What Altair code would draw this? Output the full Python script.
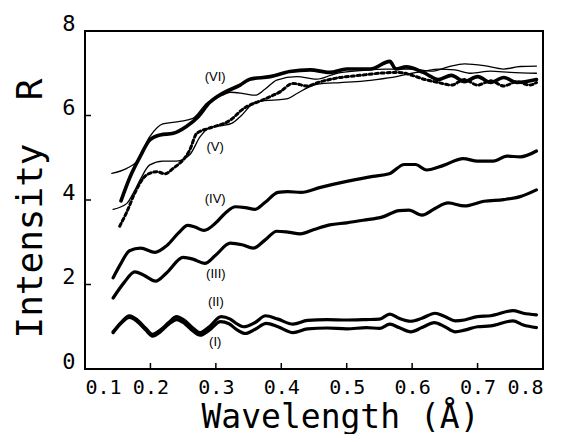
import altair as alt
import pandas as pd

# ---------------- data ----------------
x_ticks = [0.1, 0.2, 0.3, 0.4, 0.5, 0.6, 0.7, 0.8]
y_ticks = [0, 2, 4, 6, 8]

# Curve (I)
I_x = [0.143, 0.155, 0.168, 0.18, 0.193, 0.203, 0.215, 0.228, 0.24, 0.252, 0.265, 0.276, 0.29, 0.307, 0.32,
       0.333, 0.345, 0.36, 0.377, 0.395, 0.418, 0.44, 0.47, 0.5, 0.53, 0.55, 0.566, 0.58, 0.598, 0.615, 0.634,
       0.65, 0.666, 0.68, 0.70, 0.72, 0.754, 0.77, 0.79]
I_y = [0.86, 1.08, 1.22, 1.12, 0.92, 0.78, 0.88, 1.06, 1.17, 1.08, 0.90, 0.80, 0.92, 1.12, 1.07,
       0.92, 0.84, 0.94, 1.08, 1.00, 0.86, 0.95, 0.97, 0.95, 0.98, 0.96, 1.06, 0.98, 0.88, 0.98, 1.10,
       1.00, 0.88, 0.92, 1.00, 1.02, 1.14, 1.04, 0.98]

# Curve (II)
II_x = [0.143, 0.155, 0.168, 0.18, 0.193, 0.203, 0.215, 0.228, 0.24, 0.252, 0.265, 0.275, 0.29, 0.308, 0.322,
        0.333, 0.342, 0.36, 0.376, 0.395, 0.418, 0.44, 0.47, 0.5, 0.53, 0.55, 0.566, 0.58, 0.598, 0.615, 0.635,
        0.65, 0.666, 0.68, 0.70, 0.72, 0.754, 0.77, 0.79]
II_y = [0.88, 1.10, 1.26, 1.16, 0.96, 0.82, 0.92, 1.10, 1.24, 1.15, 0.97, 0.86, 1.00, 1.24, 1.18,
        1.06, 1.00, 1.10, 1.26, 1.18, 1.06, 1.15, 1.17, 1.16, 1.17, 1.18, 1.30, 1.20, 1.13, 1.20, 1.32,
        1.24, 1.14, 1.16, 1.24, 1.26, 1.38, 1.32, 1.28]

# Curve (III)
III_x = [0.143, 0.16, 0.176, 0.19, 0.208, 0.225, 0.25, 0.265, 0.283, 0.30, 0.322, 0.34, 0.357, 0.375, 0.393,
         0.41, 0.429, 0.45, 0.474, 0.50, 0.525, 0.555, 0.58, 0.595, 0.615, 0.635, 0.655, 0.68, 0.71, 0.74,
         0.765, 0.79]
III_y = [1.68, 2.05, 2.30, 2.22, 2.08, 2.28, 2.64, 2.60, 2.50, 2.70, 2.98, 2.94, 2.86, 3.05, 3.26,
         3.24, 3.20, 3.30, 3.41, 3.46, 3.52, 3.60, 3.75, 3.76, 3.64, 3.80, 3.93, 3.86, 3.97, 4.01,
         4.08, 4.24]

# Curve (IV)
IV_x = [0.143, 0.155, 0.168, 0.185, 0.207, 0.225, 0.243, 0.257, 0.268, 0.282, 0.30, 0.315, 0.33, 0.345, 0.36,
        0.375, 0.395, 0.41, 0.43, 0.46, 0.50, 0.54, 0.565, 0.588, 0.605, 0.622, 0.648, 0.678, 0.70, 0.724,
        0.745, 0.765, 0.79]
IV_y = [2.16, 2.50, 2.80, 2.86, 2.76, 2.92, 3.22, 3.40, 3.36, 3.28, 3.46, 3.70, 3.84, 3.82, 3.78,
        3.94, 4.18, 4.20, 4.18, 4.30, 4.44, 4.56, 4.62, 4.84, 4.84, 4.71, 4.82, 4.98, 4.92, 4.92,
        5.04, 5.02, 5.16]

# Curve (V): fitted line and measured points
V_fit_x = [0.143, 0.164, 0.175, 0.184, 0.199, 0.219, 0.24, 0.26, 0.276, 0.291, 0.31, 0.325, 0.337, 0.362,
           0.393, 0.41, 0.424, 0.454, 0.49, 0.515, 0.545, 0.576, 0.60, 0.617, 0.64, 0.665, 0.69, 0.72,
           0.75, 0.79]
V_fit_y = [3.78, 3.92, 4.20, 4.47, 4.83, 4.92, 4.92, 5.07, 5.50, 5.72, 5.76, 5.82, 5.97, 6.33,
           6.37, 6.40, 6.52, 6.74, 6.78, 6.80, 6.85, 6.92, 7.00, 7.04, 7.10, 7.08, 7.00, 7.05,
           7.02, 7.00]
V_dat_x = [0.153, 0.164, 0.176, 0.194, 0.21, 0.222, 0.235, 0.26, 0.271, 0.29, 0.322, 0.342, 0.372, 0.398,
           0.418, 0.439, 0.46, 0.49, 0.52, 0.55, 0.58, 0.60, 0.62, 0.64, 0.66, 0.68, 0.70, 0.72, 0.74,
           0.76, 0.78, 0.79]
V_dat_y = [3.38, 3.72, 4.16, 4.59, 4.67, 4.62, 4.75, 5.18, 5.58, 5.70, 5.89, 6.16, 6.37, 6.56,
           6.76, 6.70, 6.80, 6.90, 6.95, 7.00, 7.02, 6.95, 6.85, 6.78, 6.72, 6.85, 6.72, 6.82, 6.70,
           6.80, 6.72, 6.78]

# Curve (VI): fitted line and measured points
VI_fit_x = [0.141, 0.164, 0.179, 0.199, 0.219, 0.245, 0.265, 0.286, 0.31, 0.322, 0.342, 0.36, 0.375, 0.393,
            0.424, 0.454, 0.485, 0.52, 0.56, 0.60, 0.63, 0.655, 0.68, 0.71, 0.74, 0.765, 0.79]
VI_fit_y = [4.63, 4.75, 4.91, 5.50, 5.80, 5.86, 5.93, 6.29, 6.48, 6.55, 6.52, 6.48, 6.62, 6.84,
            6.92, 6.86, 7.00, 7.06, 7.10, 7.10, 7.05, 7.15, 7.22, 7.18, 7.10, 7.16, 7.17]
VI_dat_x = [0.155, 0.169, 0.184, 0.199, 0.215, 0.235, 0.255, 0.273, 0.29, 0.311, 0.337, 0.352, 0.383, 0.413,
            0.444, 0.474, 0.50, 0.536, 0.566, 0.575, 0.591, 0.617, 0.64, 0.66, 0.68, 0.70, 0.72, 0.74,
            0.76, 0.79]
VI_dat_y = [3.98, 4.55, 5.02, 5.42, 5.54, 5.58, 5.74, 5.97, 6.30, 6.53, 6.72, 6.86, 6.92, 7.04,
            7.08, 7.02, 7.10, 7.10, 7.28, 7.10, 7.15, 7.02, 6.85, 6.95, 6.80, 6.92, 6.78, 6.90,
            6.78, 6.85]

# Curve labels
lab_text = ["(VI)", "(V)", "(IV)", "(III)", "(II)", "(I)"]
lab_x = [0.299, 0.299, 0.299, 0.300, 0.300, 0.299]
lab_y = [6.91, 5.25, 4.02, 2.25, 1.59, 0.64]

# ---------------- build tables ----------------
def table(name, xs, ys):
    return pd.DataFrame({"series": name, "x": xs, "y": ys, "i": range(len(xs))})

thick = pd.concat([table("I", I_x, I_y), table("II", II_x, II_y),
                   table("III", III_x, III_y), table("IV", IV_x, IV_y)])
fits = pd.concat([table("V", V_fit_x, V_fit_y), table("VI", VI_fit_x, VI_fit_y)])
vi_data = table("VI", VI_dat_x, VI_dat_y)
v_data = table("V", V_dat_x, V_dat_y)
labels = pd.DataFrame({"t": lab_text, "x": lab_x, "y": lab_y})
xt = pd.DataFrame({"x": x_ticks})
yt = pd.DataFrame({"y": y_ticks})

FONT = "DejaVu Sans Mono"
X = alt.X("x:Q", scale=alt.Scale(domain=[0.1, 0.8], nice=False, zero=False),
          axis=alt.Axis(values=x_ticks, format=".1f", title="Wavelength (Å)",
                        labelFontSize=20, labelPadding=8, titleX=255, titleY=58, titleAlign="center",
                        titleBaseline="alphabetic", titleFontSize=33))
Y = alt.Y("y:Q", scale=alt.Scale(domain=[0, 8], nice=False),
          axis=alt.Axis(values=y_ticks, format="d", title="Intensity\u00a0\u00a0R",
                        labelFontSize=22, labelPadding=10, labelOffset=-8, titleAngle=270,
                        titleX=-44, titleY=177, titleAlign="center", titleBaseline="alphabetic",
                        titleFontSize=36))

base_line = dict(color="black", strokeJoin="round", strokeCap="round", interpolate="monotone")

l_thick = alt.Chart(thick).mark_line(strokeWidth=3.2, **base_line).encode(
    x=X, y=Y, detail="series:N", order="i:Q")
l_fit = alt.Chart(fits).mark_line(strokeWidth=1.3, **base_line).encode(
    x=X, y=Y, detail="series:N", order="i:Q")
l_vi = alt.Chart(vi_data).mark_line(strokeWidth=3.6, **base_line).encode(
    x=X, y=Y, order="i:Q")
l_v = alt.Chart(v_data).mark_line(strokeWidth=3, strokeDash=[3, 3], **base_line).encode(
    x=X, y=Y, order="i:Q")
t_lab = alt.Chart(labels).mark_text(font="Liberation Sans", fontSize=13, color="black").encode(
    x=X, y=Y, text="t:N")
xticks = alt.Chart(xt).mark_rule(color="black", strokeWidth=1.5).encode(
    x=X, y=alt.value(338), y2=alt.value(332))
yticks = alt.Chart(yt).mark_rule(color="black", strokeWidth=1.5).encode(
    y=Y, x=alt.value(0), x2=alt.value(6))

chart = alt.layer(l_thick, l_fit, l_vi, l_v, t_lab, xticks, yticks).properties(
    width=458, height=338,
    autosize=alt.AutoSizeParams(type="none"),
    padding={"left": 77, "top": 23, "right": 10, "bottom": 65},
).configure_view(stroke="black", strokeWidth=2).configure_axis(
    domain=False, ticks=False, grid=False,
    labelFont=FONT, labelColor="black",
    titleFont=FONT, titleFontWeight="normal", titleColor="black",
)

chart.save("out.html", embed_options={"renderer": "svg", "actions": False})
